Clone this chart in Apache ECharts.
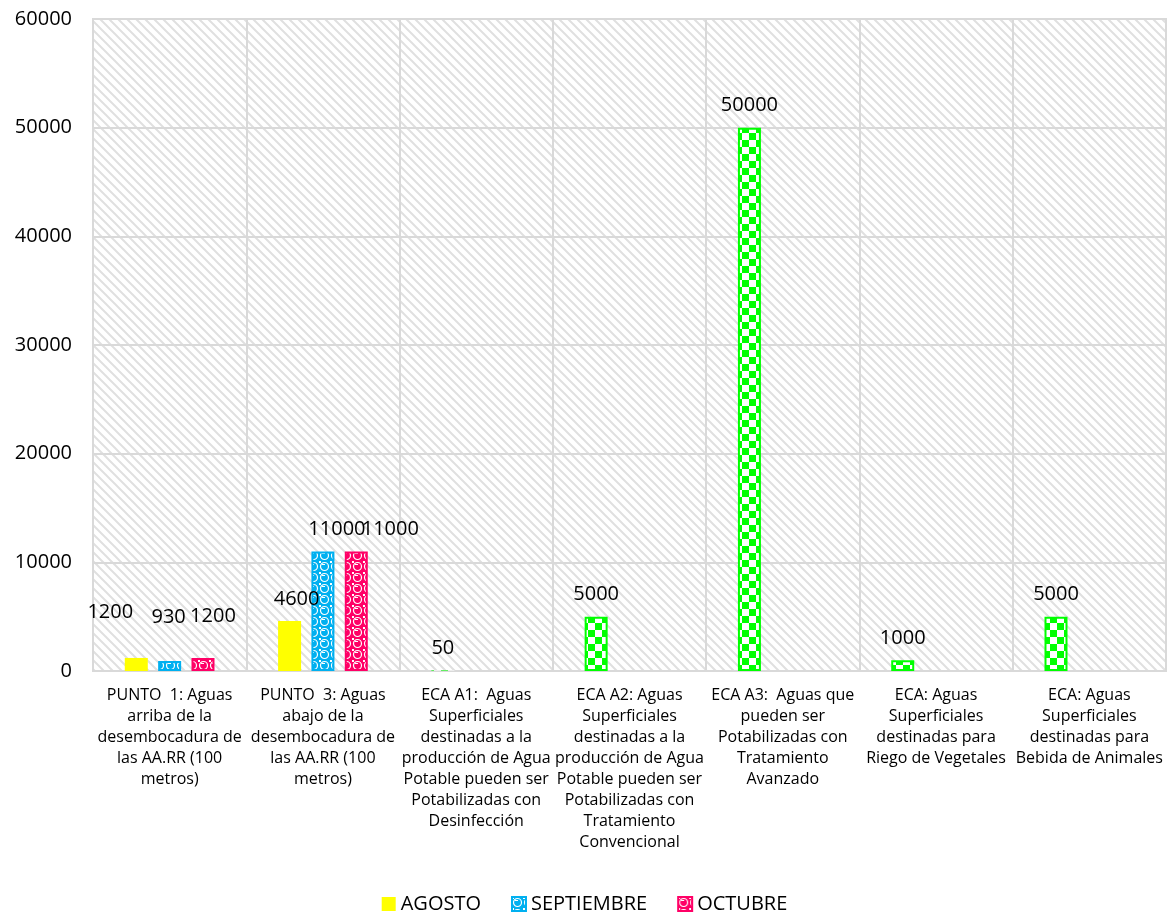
<!DOCTYPE html>
<html>
<head>
<meta charset="utf-8">
<script src="https://cdn.jsdelivr.net/npm/echarts@6/dist/echarts.min.js"></script>
<style>
  html, body { margin: 0; padding: 0; background: #fff; }
  #chart { width: 1169px; height: 915px; }
</style>
</head>
<body>
<div id="chart"></div>
<script>
var categories = [
    'PUNTO  1: Aguas\narriba de la\ndesembocadura de\nlas AA.RR (100\nmetros)',
    'PUNTO  3: Aguas\nabajo de la\ndesembocadura de\nlas AA.RR (100\nmetros)',
    'ECA A1:  Aguas\nSuperficiales\ndestinadas a la\nproducción de Agua\nPotable pueden ser\nPotabilizadas con\nDesinfección',
    'ECA A2: Aguas\nSuperficiales\ndestinadas a la\nproducción de Agua\nPotable pueden ser\nPotabilizadas con\nTratamiento\nConvencional',
    'ECA A3:  Aguas que\npueden ser\nPotabilizadas con\nTratamiento\nAvanzado',
    'ECA: Aguas\nSuperficiales\ndestinadas para\nRiego de Vegetales',
    'ECA: Aguas\nSuperficiales\ndestinadas para\nBebida de Animales'
];
var seriesNames = ['AGOSTO', 'SEPTIEMBRE', 'OCTUBRE'];
var agosto = [1200, 4600, 50, 5000, 50000, 1000, 5000];
var septiembre = [930, 11000, null, null, null, null, null];
var octubre = [1200, 11000, null, null, null, null, null];
// points of AGOSTO that are the ECA limits (drawn green, checkered)
var ecaIndex = [2, 3, 4, 5, 6];

function makeCanvas(w, h, draw) {
    var c = document.createElement('canvas');
    c.width = w; c.height = h;
    draw(c.getContext('2d'));
    return c;
}

var hatch = makeCanvas(9, 9, function (ctx) {
    ctx.fillStyle = '#ffffff';
    ctx.fillRect(0, 0, 9, 9);
    ctx.strokeStyle = '#e0e0e0';
    ctx.lineWidth = 2;
    ctx.beginPath();
    ctx.moveTo(-2, -2); ctx.lineTo(11, 11);
    ctx.moveTo(-11, -2); ctx.lineTo(2, 11);
    ctx.moveTo(7, -2); ctx.lineTo(20, 11);
    ctx.stroke();
});

function circles(col) {
    return makeCanvas(11, 11, function (ctx) {
        ctx.fillStyle = col;
        ctx.fillRect(0, 0, 11, 11);
        ctx.strokeStyle = '#ffffff';
        ctx.lineWidth = 1.2;
        ctx.beginPath();
        ctx.arc(5.5, 5.5, 4, 0, Math.PI * 2);
        ctx.stroke();
        ctx.fillStyle = '#ffffff';
        ctx.fillRect(0, 0, 2, 2);
        ctx.fillRect(3, 3, 3, 1);
    });
}

var checker = makeCanvas(14, 14, function (ctx) {
    ctx.fillStyle = '#ffffff';
    ctx.fillRect(0, 0, 14, 14);
    ctx.fillStyle = '#00ff00';
    ctx.fillRect(0, 0, 7, 7);
    ctx.fillRect(7, 7, 7, 7);
});

var bluePat = { image: circles('#00b0f0'), repeat: 'repeat' };
var redPat = { image: circles('#ff0066'), repeat: 'repeat' };
var greenPat = { image: checker, repeat: 'repeat' };

var font = 'Open Sans';

// label nudges where the original labels were moved by hand
var agostoOffsets = [[-26, -24], [7, 0]];
var septOffsets = [[-1, -22], [14, 0]];
var octOffsets = [[10, -20], [34, 0]];

function withOffsets(arr, offs, extra) {
    return arr.map(function (v, i) {
        if (v === null) return v;
        var d = { value: v };
        if (offs[i]) d.label = { offset: offs[i] };
        if (extra) extra(d, i);
        return d;
    });
}

var agostoData = withOffsets(agosto, agostoOffsets, function (d, i) {
    if (ecaIndex.indexOf(i) >= 0) {
        d.itemStyle = { color: greenPat, borderColor: '#00ff00', borderWidth: d.value < 500 ? 0 : 2 };
    }
});

var labelStyle = {
    show: true, position: 'top', distance: 12,
    fontFamily: font, fontSize: 20, color: '#000'
};

var chart = echarts.init(document.getElementById('chart'));
chart.setOption({
    animation: false,
    textStyle: { fontFamily: font },
    grid: {
        left: 93, right: 3, top: 19, bottom: 244,
        show: true,
        backgroundColor: { image: hatch, repeat: 'repeat' },
        borderColor: '#d9d9d9', borderWidth: 2
    },
    legend: {
        top: 889, left: 'center',
        itemWidth: 14, itemHeight: 14, itemGap: 30,
        icon: 'rect',
        textStyle: { fontFamily: font, fontSize: 20, color: '#000' },
        data: seriesNames
    },
    xAxis: {
        type: 'category',
        data: categories,
        axisTick: { show: false },
        axisLine: { lineStyle: { color: '#d9d9d9', width: 2 } },
        splitLine: { show: true, lineStyle: { color: '#d9d9d9', width: 2 } },
        axisLabel: {
            interval: 0, margin: 14,
            fontFamily: font, fontSize: 16, color: '#000', lineHeight: 21
        }
    },
    yAxis: {
        type: 'value',
        min: 0, max: 60000, interval: 10000,
        axisLine: { show: false },
        axisTick: { show: false },
        splitLine: { lineStyle: { color: '#d9d9d9', width: 2 } },
        axisLabel: {
            fontFamily: font, fontSize: 20, color: '#000', margin: 21,
            formatter: function (v) { return String(v); }
        }
    },
    series: [
        {
            name: seriesNames[0], type: 'bar',
            barWidth: 23, barGap: '45%',
            itemStyle: { color: '#ffff00' },
            label: labelStyle,
            data: agostoData
        },
        {
            name: seriesNames[1], type: 'bar',
            barWidth: 23, barGap: '45%',
            itemStyle: { color: bluePat, borderColor: '#00b0f0', borderWidth: 2 },
            label: labelStyle,
            data: withOffsets(septiembre, septOffsets)
        },
        {
            name: seriesNames[2], type: 'bar',
            barWidth: 23, barGap: '45%',
            itemStyle: { color: redPat, borderColor: '#ff0066', borderWidth: 2 },
            label: labelStyle,
            data: withOffsets(octubre, octOffsets)
        }
    ]
});
</script>
</body>
</html>
